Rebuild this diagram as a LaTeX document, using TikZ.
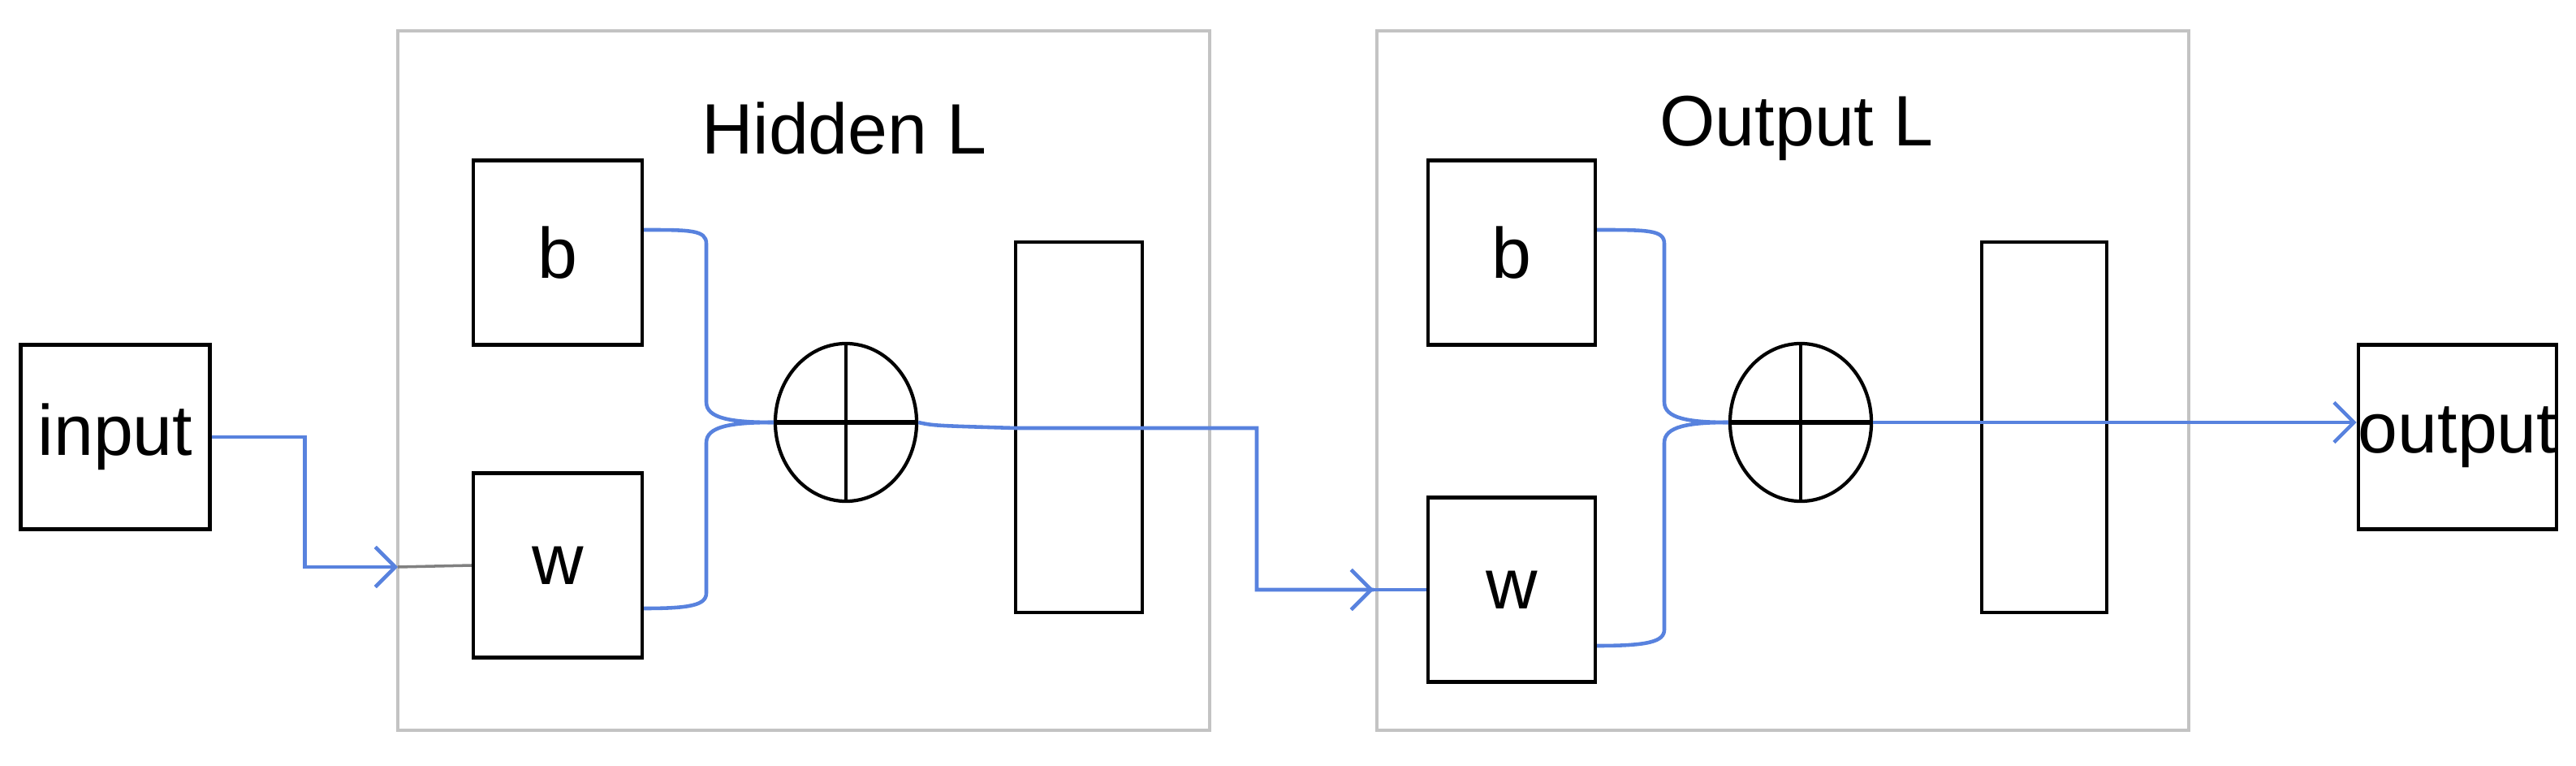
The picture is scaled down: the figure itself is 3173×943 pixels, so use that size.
\documentclass[tikz,border=0pt]{standalone}
\usepackage{fontspec}
\setmainfont{Liberation Sans}
\usetikzlibrary{shapes.geometric,arrows.meta}
\definecolor{lblue}{RGB}{88,130,222}
\definecolor{fgray}{RGB}{195,195,195}
\begin{document}
\begin{tikzpicture}[x=0.01cm,y=-0.01cm,
  box/.style={draw=black,line width=1.2pt,inner sep=0,font=\fontsize{25}{30}\selectfont},
  frame/.style={draw=fgray,line width=1pt},
  wire/.style={draw=lblue,line width=1.3pt},
  arr/.style={wire,-{Straight Barb[length=7pt,width=14pt]}},
  lbl/.style={font=\fontsize{25}{30}\selectfont}]
\useasboundingbox (0,0) rectangle (3173,943);
% frames
\draw[frame] (490,38) rectangle (1490,899);
\draw[frame] (1696,38) rectangle (2696,899);
\node[lbl] (hl) at (1040,158) {Hidden L};
\node[lbl] (ol) at (2213,158) {Output L};
% outer boxes
\node[box,minimum width=233\pgflinewidth*0+2.33cm,minimum height=2.27cm] (in) at (142,538) {input};
\node[box,minimum width=2.32cm,minimum height=2.27cm] (out) at (3027,538) {output};
% hidden layer
\node[box,minimum width=2.08cm,minimum height=2.27cm] (b1) at (687,311) {b};
\node[box,minimum width=2.08cm,minimum height=2.27cm] (w1) at (687,696) {w};
\node[draw,ellipse,line width=1.2pt,minimum width=1.74cm,minimum height=1.94cm,inner sep=0] (s1) at (1042,520) {};
\node[box,minimum width=1.56cm,minimum height=4.55cm] (r1) at (1329,526) {};
% output layer
\node[box,minimum width=2.06cm,minimum height=2.27cm] (b2) at (1862,311) {b};
\node[box,minimum width=2.06cm,minimum height=2.27cm] (w2) at (1862,726) {w};
\node[draw,ellipse,line width=1.2pt,minimum width=1.74cm,minimum height=1.94cm,inner sep=0] (s2) at (2218,520) {};
\node[box,minimum width=1.54cm,minimum height=4.55cm] (r2) at (2518,526) {};
% plus marks
\foreach \s in {s1,s2}{
  \draw[line width=1pt] (\s.north) -- (\s.south);
  \draw[line width=1.5pt] (\s.west) -- (\s.east);
}
% connectors
\coordinate (c1) at (490,698);
\draw[arr] (in.east) -- ++(115,0) |- (c1);
\draw[gray,line width=1pt] (c1) -- (w1.west);
\draw[wire] (b1.east |- 0,283) .. controls (850,283) and (870,283) .. (870,300) -- (870,495) .. controls (870,515) and (900,520) .. (s1.west);
\draw[wire] (w1.east |- 0,749) .. controls (850,749) and (870,745) .. (870,730) -- (870,545) .. controls (870,525) and (900,520) .. (s1.west);
\coordinate (c2) at (1692,726);
\draw[wire] (s1.east) .. controls (1150,524) .. (1251,527) -- (1548,527) -- (1548,726) -- (c2);
\draw[arr] (1548,726) -- (c2);
\draw[wire] (c2) -- (w2.west);
\draw[wire] (b2.east |- 0,283) .. controls (2030,283) and (2050,283) .. (2050,300) -- (2050,495) .. controls (2050,515) and (2080,520) .. (s2.west);
\draw[wire] (w2.east |- 0,795) .. controls (2030,795) and (2050,790) .. (2050,775) -- (2050,545) .. controls (2050,525) and (2080,520) .. (s2.west);
\draw[arr] (s2.east) -- (out.west |- s2.east);
\end{tikzpicture}
\end{document}
